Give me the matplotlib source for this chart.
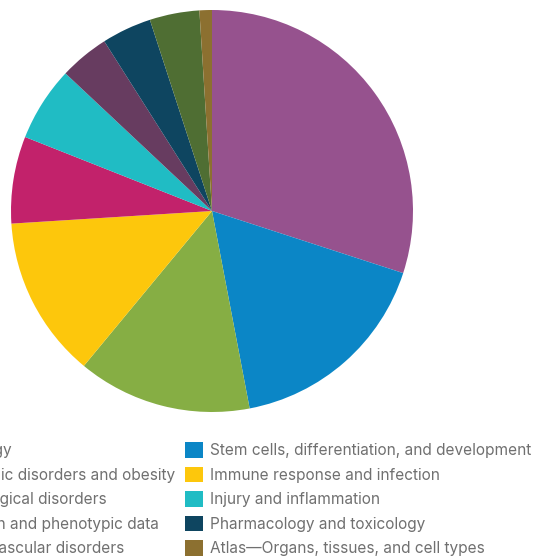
import matplotlib
matplotlib.use("Agg")
import matplotlib.pyplot as plt
from matplotlib.patches import Patch

plt.rcParams['font.family'] = ['Inter', 'DejaVu Sans']

categories = [
    "Oncology",
    "Stem cells, differentiation, and development",
    "Metabolic disorders and obesity",
    "Immune response and infection",
    "Neurological disorders",
    "Injury and inflammation",
    "Mutation and phenotypic data",
    "Pharmacology and toxicology",
    "Cardiovascular disorders",
    "Atlas\u2014Organs, tissues, and cell types",
]
values = [30, 17, 14, 13, 7, 6, 4, 4, 4, 1]
colors = ["#96528E", "#0B86C6", "#86AE44", "#FDC70C", "#C2226B",
          "#20BCC4", "#673C60", "#0E4560", "#4F6E33", "#8C7030"]

W, H = 533, 558
fig = plt.figure(figsize=(W / 100, H / 100), dpi=100)
cx, cy, r = 212, 211, 201
ax = fig.add_axes([(cx - r) / W, (H - cy - r) / H, 2 * r / W, 2 * r / H])
ax.pie(values, colors=colors, startangle=90, counterclock=False, radius=1,
       wedgeprops=dict(linewidth=0))
ax.set_xlim(-1, 1)
ax.set_ylim(-1, 1)
ax.set_aspect('equal')
ax.axis('off')

# legend in row-major order, two columns
handles = [Patch(facecolor=c, edgecolor='none') for c in colors]
order = [0, 2, 4, 6, 8, 1, 3, 5, 7, 9]
leg = fig.legend([handles[i] for i in order], [categories[i] for i in order],
                 ncol=2, loc='upper right', bbox_to_anchor=(531 / W, 1 - 442 / H),
                 frameon=False, fontsize=11.1, handlelength=1.17, handleheight=1.17,
                 handletextpad=0.45, columnspacing=0.6, labelspacing=0.56,
                 borderpad=0, borderaxespad=0)
for t in leg.get_texts():
    t.set_color('#707070')

fig.savefig("out.png", dpi=100)
